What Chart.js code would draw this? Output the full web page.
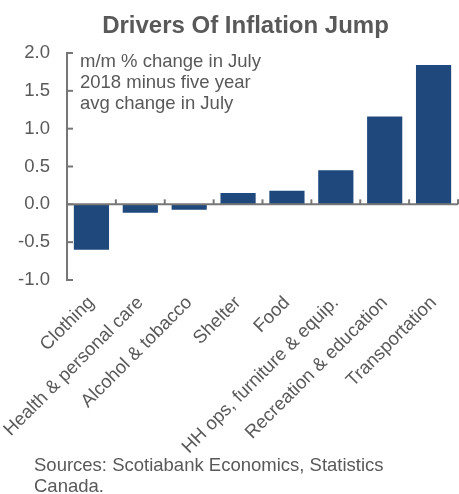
<!DOCTYPE html>
<html>
<head>
<meta charset="utf-8">
<title>Drivers Of Inflation Jump</title>
<script src="https://cdn.jsdelivr.net/npm/chart.js@4"></script>
<style>
  html, body { margin: 0; padding: 0; background: #fff; }
  #wrap { position: relative; width: 459px; height: 494px; font-family: "Liberation Sans", Arial, sans-serif; color: #595959; }
  #chart { position: absolute; left: 0; top: 0; }
  #title { position: absolute; top: 13px; left: 0; width: 491px; text-align: center; font-weight: bold; font-size: 24px; line-height: 24px; }
  #source { position: absolute; left: 34px; top: 454px; font-size: 18.5px; line-height: 21px; }
</style>
</head>
<body>
<div id="wrap">
  <canvas id="chart" width="459" height="494"></canvas>
  <div id="title">Drivers Of Inflation Jump</div>
  <div id="source">Sources: Scotiabank Economics, Statistics<br>Canada.</div>
</div>
<script>
// 类别与数值 (m/m %, July 2018 minus 5-yr avg)
const categories = [
  'Clothing',
  'Health & personal care',
  'Alcohol & tobacco',
  'Shelter',
  'Food',
  'HH ops, furniture & equip.',
  'Recreation & education',
  'Transportation'
];
const values = [-0.6, -0.11, -0.07, 0.15, 0.18, 0.45, 1.16, 1.84];
const yMin = -1.0;
const yMax = 2.0;
const yStep = 0.5;
const noteLines = ['m/m % change in July', '2018 minus five year', 'avg change in July'];

const fontFamily = '"Liberation Sans", Arial, sans-serif';
const fontSize = 18.5;
const textColor = '#595959';
const axisColor = '#777777';
const barColor = '#1f497d';

// 画坐标轴：y轴线与向内刻度，零线与类别分隔刻度，以及注释文字
const axisPlugin = {
  id: 'axisPlugin',
  afterDatasetsDraw(chart) {
    const { ctx, chartArea, scales: { x, y } } = chart;
    const left = chartArea.left;

    function line(x1, y1, x2, y2) {
      ctx.beginPath();
      ctx.moveTo(x1, y1);
      ctx.lineTo(x2, y2);
      ctx.stroke();
    }

    ctx.save();
    ctx.strokeStyle = axisColor;
    ctx.lineWidth = 2;

    // y 轴
    line(left, y.getPixelForValue(yMax) - 1, left, y.getPixelForValue(yMin) + 1);
    y.ticks.forEach(t => {
      const py = y.getPixelForValue(t.value);
      line(left, py, left + 6, py);
    });

    // 零线
    const zy = y.getPixelForValue(0);
    line(left, zy, chartArea.right, zy);
    for (let i = 1; i <= categories.length; i++) {
      const px = x.getPixelForValue(i - 0.5);
      line(px, zy, px, zy - 5);
    }

    // 注释
    ctx.fillStyle = textColor;
    ctx.font = fontSize + 'px ' + fontFamily;
    ctx.textAlign = 'left';
    ctx.textBaseline = 'alphabetic';
    noteLines.forEach((txt, i) => {
      ctx.fillText(txt, left + 13, chartArea.top + 14 + i * 21);
    });
    ctx.restore();
  }
};

const ctx = document.getElementById('chart').getContext('2d');
new Chart(ctx, {
  type: 'bar',
  data: {
    labels: categories,
    datasets: [{
      data: values,
      backgroundColor: barColor,
      borderWidth: 0,
      categoryPercentage: 1.0,
      barPercentage: 0.72
    }]
  },
  options: {
    responsive: false,
    maintainAspectRatio: false,
    animation: false,
    layout: { padding: { top: 53, right: 1, left: 0, bottom: 0 } },
    plugins: {
      legend: { display: false },
      tooltip: { enabled: false },
      title: { display: false }
    },
    scales: {
      x: {
        grid: { display: false, drawTicks: false },
        border: { display: false },
        ticks: {
          color: textColor,
          font: { size: fontSize, family: fontFamily },
          minRotation: 45,
          maxRotation: 45,
          autoSkip: false,
          padding: 12
        },
        afterFit(scale) {
          scale.height = 494 - 280;
          scale.paddingLeft = 0;
          scale.paddingRight = 0;
        }
      },
      y: {
        min: yMin,
        max: yMax,
        grid: { display: false, drawTicks: false },
        border: { display: false },
        ticks: {
          stepSize: yStep,
          color: textColor,
          font: { size: fontSize, family: fontFamily },
          padding: 17,
          callback: v => v.toFixed(1)
        },
        afterFit(scale) {
          scale.width = 67;
        }
      }
    }
  },
  plugins: [axisPlugin]
});
</script>
</body>
</html>
